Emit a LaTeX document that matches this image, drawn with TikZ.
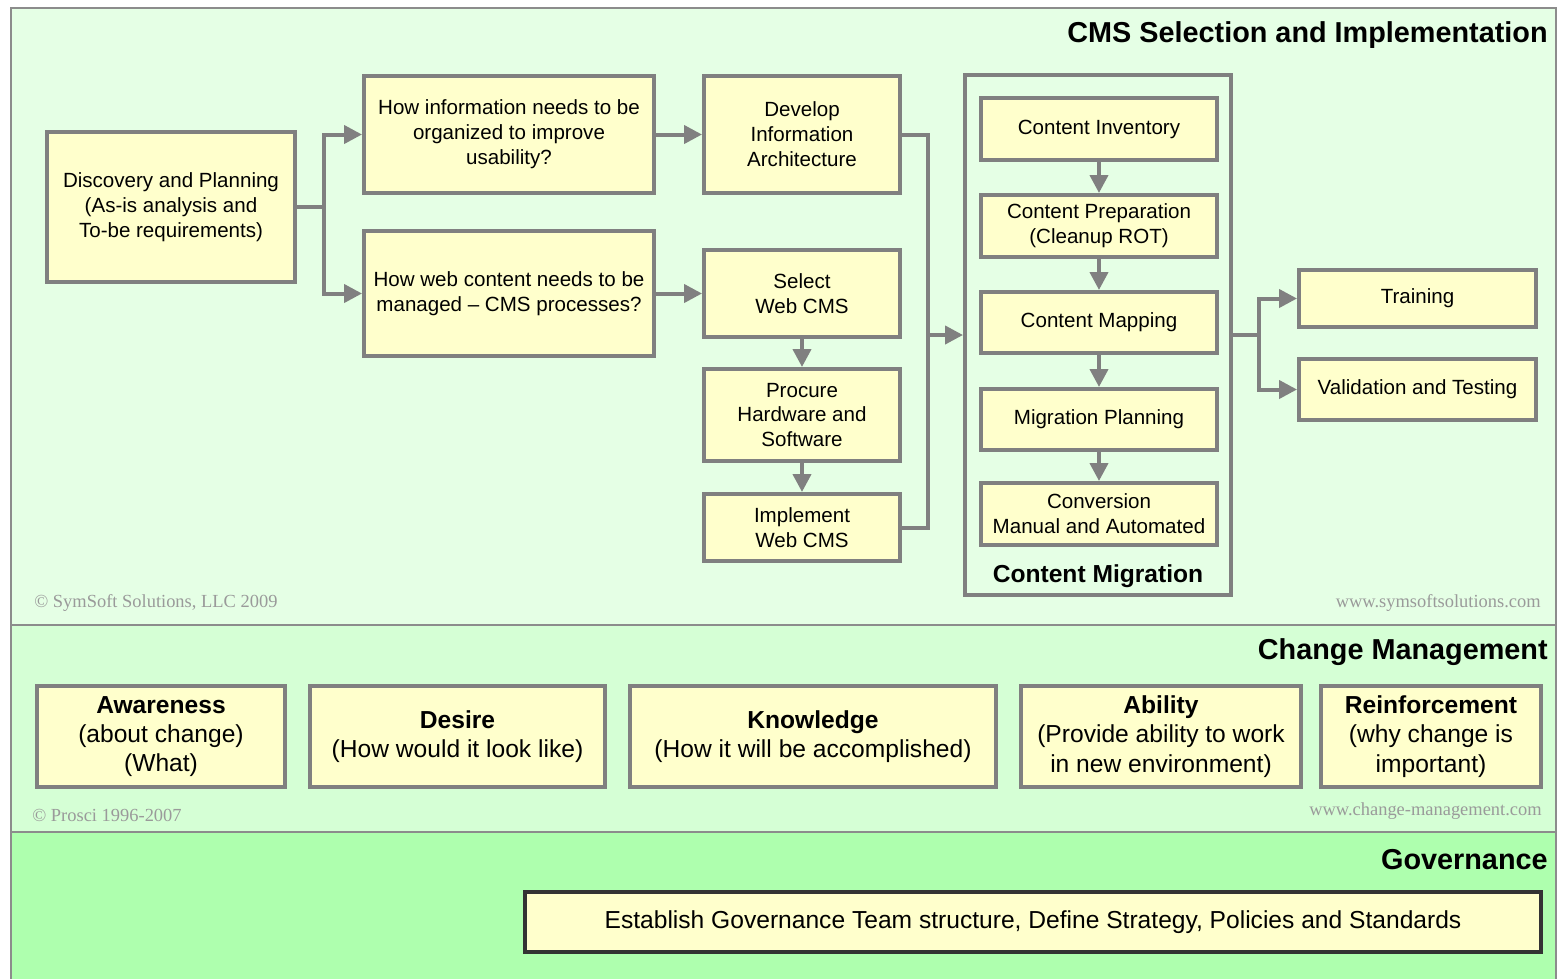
\documentclass[tikz,border=0pt]{standalone}
\usepackage{fontspec}
\setmainfont{Liberation Sans}
\newfontfamily\cpyfont{Liberation Serif}
\usetikzlibrary{arrows.meta}
\definecolor{boxline}{HTML}{808080}
\definecolor{boxfill}{HTML}{FFFFCC}
\definecolor{bgcms}{HTML}{E5FFE5}
\definecolor{bgcm}{HTML}{D5FFD5}
\definecolor{bggov}{HTML}{AEFFAE}
\definecolor{frameln}{HTML}{8C8C8C}
\definecolor{cpygray}{HTML}{9A9A9A}
\definecolor{govline}{HTML}{333333}
\newcommand\bxfont{\fontsize{11.7}{14.2}\selectfont}
\newcommand\cmfont{\fontsize{14}{16.7}\selectfont}
\newcommand\ttlfont{\fontsize{16.4}{19}\selectfont\bfseries}
\newcommand\cpyfnt{\cpyfont\fontsize{10.5}{12}\selectfont\color{cpygray}}
\tikzset{
  box/.style={draw=boxline, line width=0.08cm, fill=boxfill, inner sep=0pt, align=center, font=\bxfont},
  cmbox/.style={box, font=\cmfont, minimum height=2.02cm},
  conn/.style={draw=boxline, line width=0.08cm},
  arr/.style={conn, -{Triangle[length=0.36cm,width=0.36cm]}},
  ttl/.style={anchor=east, inner sep=0pt, font=\ttlfont},
  cpy/.style={inner sep=0pt, font=\cpyfnt},
}
\begin{document}
\begin{tikzpicture}[x=0.02cm,y=-0.02cm]
\useasboundingbox (0,0) rectangle (1562,978);
\fill[white] (0,0) rectangle (1562,978);
% panels
\fill[bgcms] (11,8) rectangle (1556,625);
\fill[bgcm] (11,625) rectangle (1556,832);
\fill[bggov] (11,832) rectangle (1556,980);
\draw[frameln, line width=0.04cm] (11,980) -- (11,8) -- (1556,8) -- (1556,980);
\draw[frameln, line width=0.04cm] (11,625) -- (1556,625);
\draw[frameln, line width=0.04cm] (11,832) -- (1556,832);
% titles
\node[ttl] (t1) at (1548,35) {CMS Selection and Implementation};
\node[ttl] (t2) at (1548,652) {Change Management};
\node[ttl] (t3) at (1548,860) {Governance};
% copyrights
\node[cpy, anchor=west] (c1) at (34,603) {© SymSoft Solutions, LLC 2009};
\node[cpy, anchor=east] (c2) at (1541,603) {www.symsoftsolutions.com};
\node[cpy, anchor=west] (c3) at (32,815) {© Prosci 1996-2007};
\node[cpy, anchor=east] (c4) at (1542,811) {www.change-management.com};
% CMS boxes
\node[box, minimum width=4.96cm, minimum height=3cm] (disc) at (171,207) {Discovery and Planning\\(As-is analysis and\\To-be requirements)};
\node[box, minimum width=5.8cm, minimum height=2.34cm] (info) at (509,134.5) {How information needs to be\\organized to improve\\usability?};
\node[box, minimum width=5.8cm, minimum height=2.5cm] (web) at (509,293.5) {How web content needs to be\\managed -- CMS processes?};
\node[box, minimum width=3.92cm, minimum height=2.34cm] (ia) at (802,134.5) {Develop\\Information\\Architecture};
\node[box, minimum width=3.92cm, minimum height=1.74cm] (sel) at (802,293.5) {Select\\Web CMS};
\node[box, minimum width=3.92cm, minimum height=1.84cm] (proc) at (802,415) {Procure\\Hardware and\\Software};
\node[box, minimum width=3.92cm, minimum height=1.34cm] (impl) at (802,527.5) {Implement\\Web CMS};
% content migration container
\node[draw=boxline, line width=0.08cm, inner sep=0pt, minimum width=5.32cm, minimum height=10.4cm] (cont) at (1098,335) {};
\node[inner sep=0pt, font=\cmfont\bfseries] (contlbl) at (1098,576) {Content Migration};
\node[box, minimum width=4.72cm, minimum height=1.24cm] (inv) at (1099,129) {Content Inventory};
\node[box, minimum width=4.72cm, minimum height=1.24cm] (prep) at (1099,226) {Content Preparation\\(Cleanup ROT)};
\node[box, minimum width=4.72cm, minimum height=1.22cm] (map) at (1099,322.5) {Content Mapping};
\node[box, minimum width=4.72cm, minimum height=1.22cm] (plan) at (1099,419.5) {Migration Planning};
\node[box, minimum width=4.72cm, minimum height=1.24cm] (conv) at (1099,514) {Conversion\\Manual and Automated};
\node[box, minimum width=4.74cm, minimum height=1.14cm] (train) at (1417.5,298.5) {Training};
\node[box, minimum width=4.74cm, minimum height=1.22cm] (valid) at (1417.5,389.5) {Validation and Testing};
% connectors
\coordinate (j1) at (324,207);
\draw[conn] (disc.east) -- (j1);
\draw[arr] (j1) |- (info.west);
\draw[arr] (j1) |- (web.west);
\draw[arr] (info.east) -- (ia.west);
\draw[arr] (web.east) -- (sel.west);
\draw[arr] (sel.south) -- (proc.north);
\draw[arr] (proc.south) -- (impl.north);
\coordinate (j2) at (928,335);
\draw[conn] (ia.east) -| (j2);
\draw[conn] (impl.east) -| (j2);
\draw[arr] (j2) -- (cont.west);
\draw[arr] (inv.south) -- (prep.north);
\draw[arr] (prep.south) -- (map.north);
\draw[arr] (map.south) -- (plan.north);
\draw[arr] (plan.south) -- (conv.north);
\coordinate (j3) at (1259,335);
\draw[conn] (cont.east) -- (j3);
\draw[arr] (j3) |- (train.west);
\draw[arr] (j3) |- (valid.west);
% change management
\node[cmbox, minimum width=4.96cm] (aware) at (161,736.5) {\textbf{Awareness}\\(about change)\\(What)};
\node[cmbox, minimum width=5.9cm] (desire) at (457.5,736.5) {\textbf{Desire}\\(How would it look like)};
\node[cmbox, minimum width=7.32cm] (know) at (813,736.5) {\textbf{Knowledge}\\(How it will be accomplished)};
\node[cmbox, minimum width=5.6cm] (abil) at (1161,736.5) {\textbf{Ability}\\(Provide ability to work\\in new environment)};
\node[cmbox, minimum width=4.4cm] (reinf) at (1431,736.5) {\textbf{Reinforcement}\\(why change is\\important)};
% governance
\node[box, font=\cmfont, draw=govline, minimum width=20.32cm, minimum height=1.2cm] (gov) at (1033,922) {Establish Governance Team structure, Define Strategy, Policies and Standards};
\end{tikzpicture}
\end{document}
